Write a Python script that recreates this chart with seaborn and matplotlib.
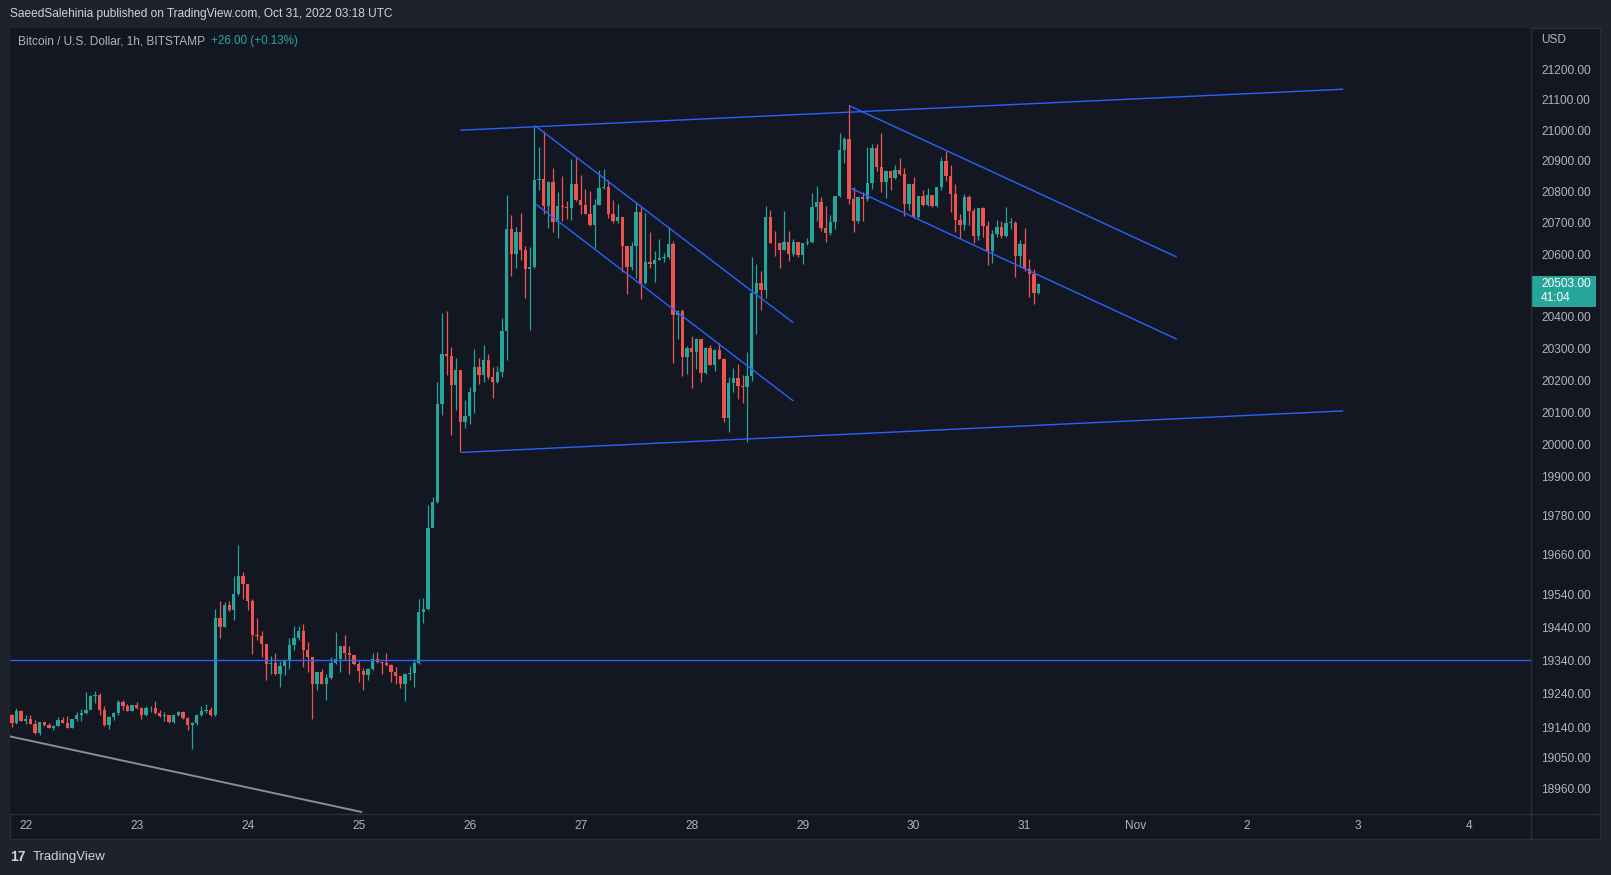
import numpy as np
import pandas as pd
import seaborn as sns
import matplotlib
matplotlib.use("Agg")
import matplotlib.pyplot as plt
import matplotlib.transforms as mtransforms
from matplotlib.patches import Rectangle
from matplotlib.lines import Line2D
from matplotlib.ticker import NullLocator

# BTCUSD 1h candles, first candle = Oct 21 21:00 UTC (hour -3 from Oct 22 00:00)
first_hour = -3
first_open = 19178

closes = [
    19152, 19188, 19160, 19166, 19151, 19122, 19157, 19146, 19139, 19145,
    19163, 19154, 19139, 19165, 19178, 19182, 19193, 19233, 19235, 19191,
    19146, 19172, 19184, 19214, 19202, 19190, 19205, 19196, 19176, 19196,
    19196, 19183, 19175, 19176, 19156, 19178, 19185, 19167, 19148, 19152,
    19178, 19190, 19193, 19176, 19468, 19441, 19507, 19492, 19540, 19595,
    19571, 19520, 19416, 19414, 19389, 19329, 19332, 19299, 19322, 19339,
    19386, 19407, 19428, 19370, 19349, 19270, 19304, 19270, 19286, 19331,
    19343, 19383, 19361, 19355, 19328, 19307, 19295, 19313, 19343, 19334,
    19331, 19325, 19304, 19292, 19270, 19299, 19301, 19331, 19486, 19495,
    19743, 19821, 20126, 20281, 20276, 20186, 20233, 20070, 20089, 20164,
    20243, 20215, 20265, 20211, 20193, 20227, 20356, 20680, 20601, 20671,
    20613, 20552, 20557, 20839, 20842, 20755, 20833, 20703, 20755, 20752,
    20748, 20826, 20774, 20758, 20729, 20693, 20758, 20813, 20816, 20727,
    20705, 20720, 20627, 20557, 20627, 20735, 20509, 20576, 20569, 20582,
    20588, 20589, 20633, 20407, 20420, 20274, 20303, 20290, 20331, 20223,
    20303, 20249, 20296, 20268, 20083, 20191, 20207, 20182, 20179, 20214,
    20477, 20509, 20484, 20719, 20636, 20634, 20614, 20637, 20601, 20637,
    20598, 20634, 20637, 20750, 20766, 20685, 20666, 20702, 20786, 20935,
    20971, 20776, 20705, 20783, 20776, 20828, 20941, 20880, 20831, 20867,
    20844, 20870, 20857, 20760, 20825, 20718, 20786, 20757, 20789, 20753,
    20814, 20901, 20850, 20792, 20708, 20692, 20782, 20737, 20657, 20747,
    20689, 20609, 20663, 20686, 20657, 20699, 20701, 20593, 20631, 20551,
    20535, 20477, 20503,
]

highs = [
    19180, 19196, 19191, 19177, 19178, 19162, 19157, 19157, 19153, 19147,
    19172, 19172, 19175, 19166, 19187, 19195, 19244, 19235, 19247, 19242,
    19204, 19174, 19185, 19220, 19220, 19208, 19206, 19216, 19201, 19204,
    19202, 19217, 19192, 19187, 19176, 19179, 19188, 19188, 19172, 19155,
    19179, 19202, 19208, 19200, 19495, 19519, 19515, 19519, 19595, 19689,
    19607, 19572, 19525, 19467, 19428, 19390, 19352, 19363, 19339, 19340,
    19407, 19445, 19444, 19449, 19395, 19350, 19306, 19315, 19298, 19349,
    19425, 19384, 19416, 19384, 19356, 19337, 19316, 19316, 19361, 19364,
    19334, 19361, 19328, 19319, 19292, 19301, 19322, 19343, 19525, 19528,
    19811, 19837, 20193, 20413, 20419, 20306, 20271, 20233, 20139, 20180,
    20297, 20271, 20312, 20281, 20243, 20246, 20397, 20791, 20726, 20687,
    20732, 20626, 20622, 21014, 20946, 20998, 20834, 20878, 20800, 20852,
    20771, 20907, 20910, 20855, 20810, 20804, 20778, 20872, 20875, 20839,
    20774, 20762, 20720, 20627, 20639, 20763, 20754, 20731, 20671, 20611,
    20649, 20604, 20687, 20642, 20421, 20426, 20309, 20338, 20332, 20331,
    20304, 20312, 20298, 20318, 20270, 20210, 20239, 20252, 20217, 20290,
    20592, 20569, 20547, 20754, 20741, 20673, 20634, 20737, 20673, 20649,
    20640, 20636, 20650, 20796, 20818, 20783, 20754, 20724, 20787, 20990,
    20977, 21081, 20815, 20784, 20799, 20945, 20954, 20954, 20990, 20868,
    20868, 20886, 20909, 20877, 20826, 20847, 20787, 20805, 20812, 20790,
    20815, 20914, 20933, 20888, 20824, 20728, 20792, 20789, 20747, 20748,
    20750, 20705, 20676, 20708, 20705, 20750, 20715, 20705, 20644, 20683,
    20583, 20551, 20509,
]

lows = [
    19140, 19150, 19158, 19150, 19149, 19120, 19116, 19144, 19137, 19133,
    19145, 19152, 19137, 19139, 19160, 19158, 19180, 19200, 19211, 19176,
    19144, 19136, 19163, 19178, 19193, 19188, 19190, 19194, 19166, 19175,
    19187, 19180, 19172, 19160, 19152, 19154, 19175, 19165, 19133, 19077,
    19146, 19175, 19184, 19174, 19175, 19408, 19440, 19490, 19461, 19538,
    19525, 19493, 19359, 19402, 19350, 19281, 19299, 19297, 19259, 19296,
    19314, 19370, 19400, 19320, 19304, 19165, 19250, 19268, 19222, 19284,
    19330, 19304, 19340, 19298, 19326, 19276, 19250, 19280, 19312, 19331,
    19298, 19322, 19276, 19270, 19258, 19219, 19280, 19261, 19329, 19452,
    19493, 19767, 19820, 20092, 20218, 20029, 20107, 19975, 20051, 20063,
    20098, 20189, 20196, 20205, 20145, 20190, 20211, 20264, 20529, 20555,
    20581, 20461, 20358, 20555, 20805, 20730, 20684, 20672, 20651, 20706,
    20713, 20710, 20770, 20729, 20727, 20691, 20619, 20756, 20810, 20716,
    20700, 20700, 20541, 20471, 20550, 20525, 20455, 20505, 20554, 20512,
    20580, 20575, 20585, 20255, 20331, 20214, 20220, 20175, 20236, 20195,
    20220, 20247, 20229, 20266, 20071, 20039, 20163, 20141, 20128, 20007,
    20198, 20347, 20423, 20461, 20634, 20595, 20556, 20612, 20579, 20595,
    20590, 20569, 20630, 20635, 20705, 20673, 20637, 20660, 20679, 20783,
    20893, 20760, 20669, 20698, 20705, 20770, 20809, 20867, 20799, 20779,
    20805, 20842, 20855, 20721, 20741, 20716, 20716, 20755, 20755, 20751,
    20751, 20805, 20834, 20734, 20670, 20650, 20676, 20692, 20634, 20644,
    20654, 20564, 20570, 20654, 20650, 20655, 20679, 20528, 20560, 20545,
    20464, 20441, 20474,
]

price_ticks = [18960, 19050, 19140, 19240, 19340, 19440, 19540, 19660, 19780,
               19900, 20000, 20100, 20200, 20300, 20400, 20600, 20700, 20800,
               20900, 21000, 21100, 21200]
day_labels = ["22", "23", "24", "25", "26", "27", "28", "29", "30", "31",
              "Nov", "2", "3", "4"]
countdown = "41:04"

# drawings on the chart (hour since Oct 22 00:00, price)
support_level = 19340
blue_names = ["range_top", "range_top", "range_bot", "range_bot",
              "ch1_top", "ch1_top", "ch1_bot", "ch1_bot",
              "ch2_top", "ch2_top", "ch2_bot", "ch2_bot"]
blue_hours = [94.1, 284.8, 94.3, 284.8, 110.2, 165.9, 110.5, 165.9,
              178.1, 248.8, 178.4, 248.8]
blue_prices = [21000, 21134, 19975, 20104, 21014, 20382, 20758, 20136,
               21080, 20591, 20812, 20330]
gray_hours = [-3.4, 72.6]
gray_prices = [19113, 18890]

BG = "#131722"
OUTER = "#1e222d"
BORDER = "#2a2e39"
TXT = "#b2b5be"
GREEN = "#26a69a"
RED = "#ef5350"
BLUE = "#2962ff"

sns.set_style("dark", {"axes.facecolor": BG, "figure.facecolor": OUTER})
plt.rcParams["font.family"] = ["Liberation Sans", "DejaVu Sans"]

W, H = 1611, 875
fig = plt.figure(figsize=(W / 100, H / 100), dpi=100)

# panel background (price pane + axes areas)
px_l, px_r, px_t, px_b = 10, 1531, 28, 814
panel_r, panel_b = 1600, 839
fig.patches.append(Rectangle((px_l / W, 1 - panel_b / H), (panel_r - px_l) / W,
                             (panel_b - px_t) / H, transform=fig.transFigure,
                             fc=BG, ec=BORDER, lw=1, zorder=-10))

ax = fig.add_axes([px_l / W, 1 - px_b / H, (px_r - px_l) / W, (px_b - px_t) / H])
ax.set_facecolor(BG)
ax.set_yscale("log")
ymin, ymax = 18884, 21336
ax.set_ylim(ymin, ymax)
ax.set_xlim(-3.4, 325.5)
ax.grid(False)
for s in ax.spines.values():
    s.set_visible(False)

df = pd.DataFrame({"close": closes, "high": highs, "low": lows})
df["hour"] = first_hour + np.arange(len(df))
df["open"] = [first_open] + closes[:-1]
colors = np.where(df["close"] >= df["open"], GREEN, RED)
body_lo = df[["open", "close"]].min(axis=1)
body_h = (df["close"] - df["open"]).abs().clip(lower=2.5)

ax.vlines(df["hour"], df["low"], df["high"], colors=colors, linewidth=0.9, zorder=2)
ax.bar(df["hour"], body_h, bottom=body_lo, width=0.72, color=colors,
       linewidth=0, zorder=3)

# drawings
ax.axhline(support_level, color=BLUE, lw=1.0, zorder=4)
blue_df = pd.DataFrame({"line": blue_names, "hour": blue_hours, "price": blue_prices})
sns.lineplot(data=blue_df, x="hour", y="price", units="line", estimator=None,
             sort=False, color=BLUE, linewidth=1.0, legend=False, ax=ax, zorder=5)
gray_df = pd.DataFrame({"hour": gray_hours, "price": gray_prices})
sns.lineplot(data=gray_df, x="hour", y="price", estimator=None, sort=False,
             color="#8a8d96", linewidth=1.4, legend=False, ax=ax, zorder=5)
ax.set_xlabel("")
ax.set_ylabel("")
ax.set_ylim(ymin, ymax)
ax.set_xlim(-3.4, 325.5)

# axes ticks
ax.yaxis.set_ticks_position("right")
ax.set_yticks(price_ticks)
ax.set_yticklabels([f"{v:.2f}" for v in price_ticks])
ax.yaxis.set_minor_locator(NullLocator())
ax.tick_params(axis="y", which="both", length=0, pad=7.5, labelsize=8.6, colors=TXT)
ax.set_xticks(np.arange(len(day_labels)) * 24)
ax.set_xticklabels(day_labels)
ax.tick_params(axis="x", length=0, pad=4.5, labelsize=8.6, colors=TXT)

# separators
fig.lines.append(Line2D([px_r / W, px_r / W], [1 - px_t / H, 1 - panel_b / H],
                        transform=fig.transFigure, color=BORDER, lw=1))
fig.lines.append(Line2D([px_l / W, panel_r / W], [1 - px_b / H, 1 - px_b / H],
                        transform=fig.transFigure, color=BORDER, lw=1))

# last price label
last = closes[-1]
k = np.log(ymax / ymin) / (px_b - px_t)
box_top = last * np.exp(8.5 * k)
box_bot = last * np.exp(-22.5 * k)
trans = mtransforms.blended_transform_factory(ax.transAxes, ax.transData)
ax.add_patch(Rectangle((1.0, box_bot), 65 / (px_r - px_l), box_top - box_bot,
                       transform=trans, fc=GREEN, ec="none", clip_on=False, zorder=10))
ax.text(1.0 + 10 / (px_r - px_l), last, f"{last:.2f}", transform=trans,
        ha="left", va="center", color="white", fontsize=8.6, clip_on=False, zorder=11)
ax.text(1.0 + 10 / (px_r - px_l), last, countdown,
        transform=mtransforms.offset_copy(trans, fig=fig, y=-14, units="dots"),
        ha="left", va="center", color="white", fontsize=8.6, clip_on=False, zorder=11)

# texts
change = closes[-1] - closes[-2]
pct = change / closes[-2] * 100
fig.text(10 / W, 1 - 14.5 / H,
         "SaeedSalehinia published on TradingView.com, Oct 31, 2022 03:18 UTC",
         color="#d1d4dc", fontsize=8.6, va="center", ha="left")
fig.text(17.5 / W, 1 - 41 / H, "Bitcoin / U.S. Dollar, 1h, BITSTAMP",
         color=TXT, fontsize=8.6, va="center", ha="left")
fig.text(211 / W, 1 - 41 / H, f"{change:+.2f} ({pct:+.2f}%)",
         color=GREEN, fontsize=8.4, va="center", ha="left")
fig.text(1541 / W, 1 - 40 / H, "USD", color=TXT, fontsize=8.6, va="center", ha="left")
fig.text(10 / W, 1 - 857 / H, "17", color="#d1d4dc", fontsize=10, weight="bold",
         va="center", ha="left")
fig.text(33 / W, 1 - 857 / H, "TradingView", color="#d1d4dc", fontsize=9.5,
         va="center", ha="left")

fig.savefig("out.png", dpi=100, facecolor=OUTER)
